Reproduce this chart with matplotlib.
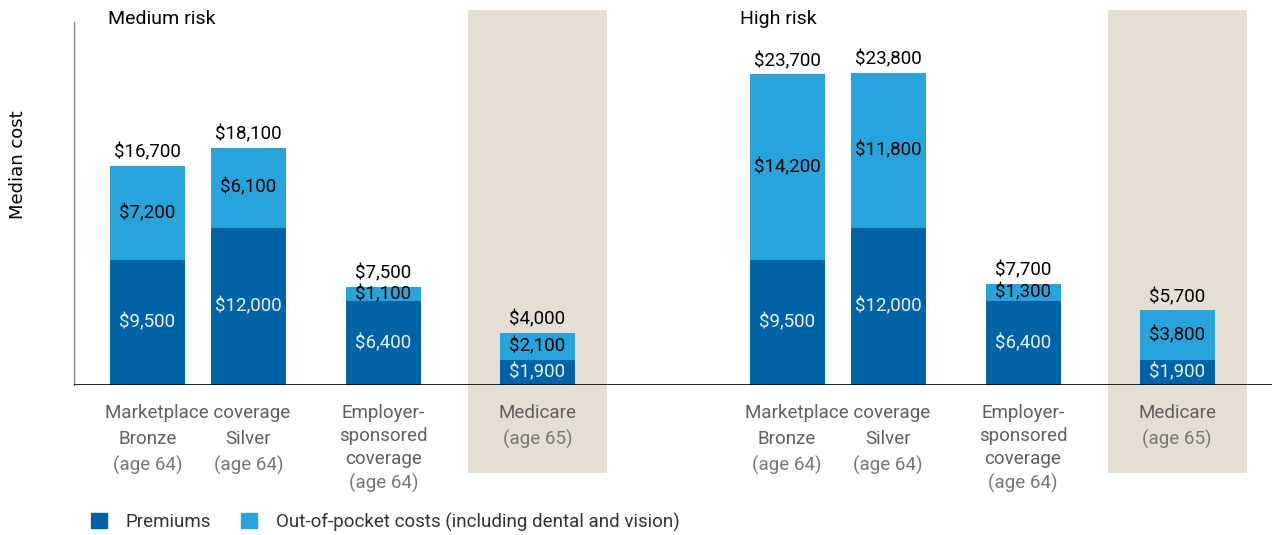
import matplotlib.pyplot as plt
import matplotlib.patches as mpatches

# values (dollars)
groups = ['Medium risk', 'High risk']
plans = ['Bronze', 'Silver', 'Employer', 'Medicare']
premiums = {
    'Medium risk': [9500, 12000, 6400, 1900],
    'High risk': [9500, 12000, 6400, 1900],
}
out_of_pocket = {
    'Medium risk': [7200, 6100, 1100, 2100],
    'High risk': [14200, 11800, 1300, 3800],
}
totals = {
    'Medium risk': [16700, 18100, 7500, 4000],
    'High risk': [23700, 23800, 7700, 5700],
}

DARK = '#0063A6'
LIGHT = '#27A4DC'
BAND = '#E5DFD3'
GREY = '#5f5f5f'

plt.rcParams['font.family'] = ['Roboto', 'DejaVu Sans']

W, H = 1272, 535
fig = plt.figure(figsize=(W / 100, H / 100), dpi=100)
# axes: x in pixel units from the y-axis to the right edge, baseline at y=385
ax = fig.add_axes([74 / W, (H - 385) / H, (W - 74) / W, (385 - 22) / H])
px_per_dollar = 0.01312
ymax = (385 - 22) / px_per_dollar
ax.set_xlim(74, W)
ax.set_ylim(0, ymax)

group_start = {'Medium risk': 147.5, 'High risk': 787}
title_x = {'Medium risk': 108, 'High risk': 740}
offsets = [0, 101, 236, 390]
bar_w = 75

for g in groups:
    xs = [group_start[g] + o for o in offsets]
    # shaded band behind Medicare
    band_lo = -(473 - 385) / px_per_dollar
    band_hi = (385 - 10) / px_per_dollar
    ax.bar(xs[3], band_hi - band_lo, bottom=band_lo, width=139, color=BAND,
           clip_on=False, zorder=0)
    ax.bar(xs, premiums[g], width=bar_w, color=DARK, zorder=2)
    ax.bar(xs, out_of_pocket[g], bottom=premiums[g], width=bar_w, color=LIGHT, zorder=2)
    for x, p, o, t in zip(xs, premiums[g], out_of_pocket[g], totals[g]):
        ax.text(x, p / 2, f'${p:,}', ha='center', va='center', color='#E8F1FA',
                fontsize=13.5, zorder=3)
        ax.text(x, p + o / 2, f'${o:,}', ha='center', va='center', color='black',
                fontsize=13.5, zorder=3)
        ax.annotate(f'${t:,}', (x, p + o), xytext=(0, 3), textcoords='offset points',
                    ha='center', va='bottom', color='black', fontsize=13.5, zorder=3)

    # category labels below the axis (in pixel offsets from baseline)
    def below(x, dy, s, color=GREY):
        ax.annotate(s, (x, 0), xytext=(0, -dy * 0.72), textcoords='offset points',
                    ha='center', va='center', color=color, fontsize=13.5,
                    annotation_clip=False)

    below((xs[0] + xs[1]) / 2, 28, 'Marketplace coverage')
    below(xs[0], 54, 'Bronze')
    below(xs[1], 54, 'Silver')
    below(xs[0], 80, '(age 64)', '#777777')
    below(xs[1], 80, '(age 64)', '#777777')
    below(xs[2], 28, 'Employer-')
    below(xs[2], 51, 'sponsored')
    below(xs[2], 74, 'coverage')
    below(xs[2], 98, '(age 64)', '#777777')
    below(xs[3], 28, 'Medicare')
    below(xs[3], 54, '(age 65)', '#777777')

    ax.text(title_x[g], 1.0 + 3 / (385 - 22), g, transform=ax.get_xaxis_transform(),
            ha='left', va='center', fontsize=14, color='black')

ax.axhline(0, color='black', lw=1.2, zorder=4)
for s in ['top', 'right', 'bottom']:
    ax.spines[s].set_visible(False)
ax.spines['left'].set_color('#888888')
ax.spines['left'].set_linewidth(1)
ax.set_xticks([])
ax.set_yticks([])

fig.text(18 / W, 1 - 165 / H, 'Median cost', rotation=90, ha='center', va='center',
         fontsize=13, family=['DejaVu Sans'], color='black')

# legend
handles = [mpatches.Patch(color=DARK, label='Premiums'),
           mpatches.Patch(color=LIGHT, label='Out-of-pocket costs (including dental and vision)')]
fig.legend(handles=handles, loc='center left', bbox_to_anchor=(74 / W, 1 - 522 / H),
           ncol=2, frameon=False, fontsize=13.5, handlelength=0.85, handleheight=0.85,
           handletextpad=1.0, columnspacing=1.6, labelcolor='#333333')

fig.savefig('out.png', dpi=100)
